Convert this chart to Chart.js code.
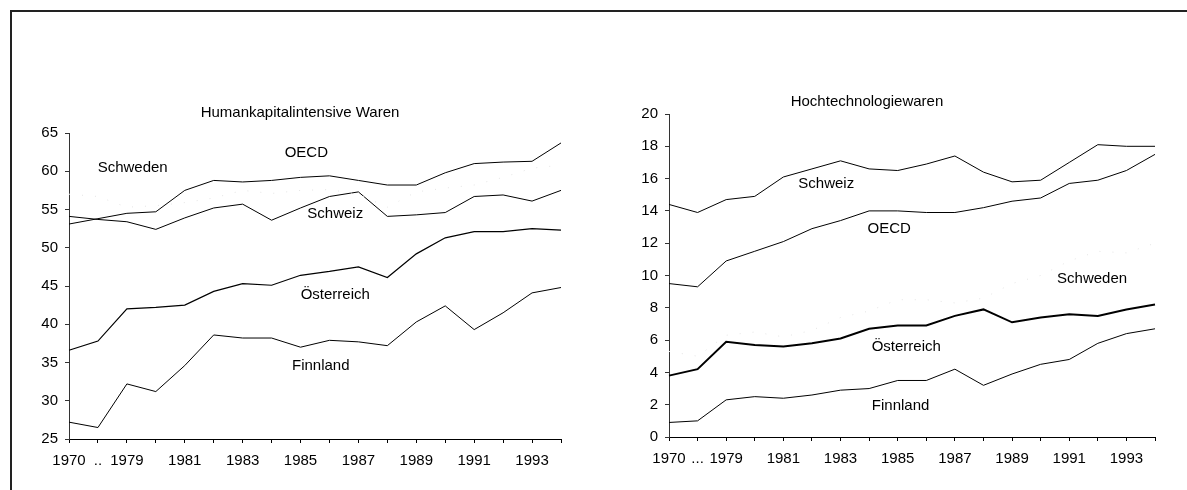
<!DOCTYPE html>
<html>
<head>
<meta charset="utf-8">
<script src="https://cdn.jsdelivr.net/npm/chart.js@4.4.1/dist/chart.umd.min.js"></script>
<style>
    body { margin: 0; background: #fff; width: 1187px; height: 490px; overflow: hidden; position: relative; }
    #frame { position: absolute; left: 10px; top: 10px; width: 1200px; height: 500px; border-top: 2px solid #222; border-left: 2px solid #222; }
    #leftChart { position: absolute; left: 20px; top: 20px; }
    #rightChart { position: absolute; left: 600px; top: 20px; }
</style>
</head>
<body>
<div id="frame"></div>
<canvas id="leftChart" width="570" height="460"></canvas>
<canvas id="rightChart" width="580" height="460"></canvas>
<script>
const years = ['1970', '..', '1979', '1980', '1981', '1982', '1983', '1984', '1985', '1986', '1987', '1988', '1989', '1990', '1991', '1992', '1993', '1994'];
const leftTickLabels = ['1970', '..', '1979', '', '1981', '', '1983', '', '1985', '', '1987', '', '1989', '', '1991', '', '1993', ''];
const rightTickLabels = ['1970', '...', '1979', '', '1981', '', '1983', '', '1985', '', '1987', '', '1989', '', '1991', '', '1993', ''];

// Humankapitalintensive Waren
const humanOecd = [53.1, 53.8, 54.5, 54.7, 57.5, 58.8, 58.6, 58.8, 59.2, 59.4, 58.8, 58.2, 58.2, 59.8, 61.0, 61.2, 61.3, 63.7];
const humanSchweiz = [54.1, 53.7, 53.4, 52.4, 53.9, 55.2, 55.7, 53.6, 55.2, 56.7, 57.3, 54.1, 54.3, 54.6, 56.7, 56.9, 56.1, 57.5];
const humanOesterreich = [36.6, 37.8, 42.0, 42.2, 42.5, 44.3, 45.3, 45.1, 46.4, 46.9, 47.5, 46.1, 49.2, 51.3, 52.1, 52.1, 52.5, 52.3];
const humanFinnland = [27.2, 26.5, 32.2, 31.2, 34.6, 38.6, 38.2, 38.2, 37.0, 37.9, 37.7, 37.2, 40.3, 42.4, 39.3, 41.5, 44.1, 44.8];
const humanSchweden = [57.0, 56.7, 55.3, 55.5, 55.9, 56.5, 57.5, 57.1, 57.5, 57.6, 57.0, 55.3, 57.3, 57.8, 58.2, 59.2, 60.4, 60.8];

// Hochtechnologiewaren
const hightechSchweiz = [14.4, 13.9, 14.7, 14.9, 16.1, 16.6, 17.1, 16.6, 16.5, 16.9, 17.4, 16.4, 15.8, 15.9, 17.0, 18.1, 18.0, 18.0];
const hightechOecd = [9.5, 9.3, 10.9, 11.5, 12.1, 12.9, 13.4, 14.0, 14.0, 13.9, 13.9, 14.2, 14.6, 14.8, 15.7, 15.9, 16.5, 17.5];
const hightechOesterreich = [3.8, 4.2, 5.9, 5.7, 5.6, 5.8, 6.1, 6.7, 6.9, 6.9, 7.5, 7.9, 7.1, 7.4, 7.6, 7.5, 7.9, 8.2];
const hightechFinnland = [0.9, 1.0, 2.3, 2.5, 2.4, 2.6, 2.9, 3.0, 3.5, 3.5, 4.2, 3.2, 3.9, 4.5, 4.8, 5.8, 6.4, 6.7];
const hightechSchweden = [5.3, 5.0, 6.3, 6.5, 6.2, 6.6, 7.4, 7.8, 8.5, 8.5, 8.3, 8.6, 9.5, 10.0, 10.9, 11.5, 11.4, 12.0];

const FONT_FAMILY = '"Liberation Sans", Arial, sans-serif';
const FONT_SIZE = 15;

const seriesLabels = {
    id: 'seriesLabels',
    afterDatasetsDraw(chart, args, opts) {
        const { ctx, chartArea, scales: { x, y } } = chart;
        ctx.save();
        ctx.font = FONT_SIZE + 'px ' + FONT_FAMILY;
        ctx.fillStyle = '#000';
        ctx.textAlign = 'center';
        ctx.textBaseline = 'middle';
        opts.labels.forEach(l => {
            ctx.fillText(l.text, x.getPixelForValue(l.x), y.getPixelForValue(l.y));
        });
        ctx.fillText(opts.title.text, chartArea.left + opts.title.dx, chartArea.top + opts.title.dy);
        ctx.restore();
    }
};

const lineSet = (data, width) => ({
    data: data,
    borderColor: '#000',
    borderWidth: width,
    pointRadius: 0,
    tension: 0,
    fill: false
});

const fadedSet = (data) => ({
    data: data,
    borderColor: '#e4e4e4',
    borderWidth: 1,
    borderDash: [1, 12],
    pointRadius: 0,
    tension: 0,
    fill: false
});

const renderChart = (canvasId, cfg) => {
    const ctx = document.getElementById(canvasId).getContext('2d');
    return new Chart(ctx, {
        type: 'line',
        data: {
            labels: years,
            datasets: cfg.datasets
        },
        options: {
            responsive: false,
            animation: false,
            layout: { padding: cfg.padding },
            scales: {
                x: {
                    offset: false,
                    grid: { display: true, drawOnChartArea: false, drawTicks: true, tickLength: 4, color: '#000' },
                    border: { display: true, color: '#000', width: 1 },
                    ticks: {
                        autoSkip: false,
                        maxRotation: 0,
                        padding: 9,
                        color: '#000',
                        font: { family: FONT_FAMILY, size: FONT_SIZE },
                        callback: (val, i) => cfg.tickLabels[i]
                    },
                    afterFit: (s) => { s.height = 30; }
                },
                y: {
                    min: cfg.min,
                    max: cfg.max,
                    grid: { display: true, drawOnChartArea: false, drawTicks: true, tickLength: 4, color: '#333' },
                    border: { display: true, color: '#333', width: 1 },
                    ticks: {
                        stepSize: cfg.step,
                        padding: 7,
                        color: '#000',
                        font: { family: FONT_FAMILY, size: FONT_SIZE }
                    },
                    afterFit: (s) => { s.width = cfg.yWidth; }
                }
            },
            plugins: {
                legend: { display: false },
                tooltip: { enabled: false },
                seriesLabels: { labels: cfg.labels, title: cfg.title }
            }
        },
        plugins: [seriesLabels]
    });
};

renderChart('leftChart', {
    datasets: [
        fadedSet(humanSchweden),
        lineSet(humanOecd, 1),
        lineSet(humanSchweiz, 1),
        lineSet(humanOesterreich, 1.2),
        lineSet(humanFinnland, 1)
    ],
    tickLabels: leftTickLabels,
    min: 25, max: 65, step: 5,
    yWidth: 49,
    padding: { left: 0, top: 113, right: 29, bottom: 11 },
    title: { text: 'Humankapitalintensive Waren', dx: 231, dy: -20 },
    labels: [
        { text: 'Schweden', x: 2.2, y: 60.4 },
        { text: 'OECD', x: 8.2, y: 62.4 },
        { text: 'Schweiz', x: 9.2, y: 54.4 },
        { text: 'Österreich', x: 9.2, y: 43.8 },
        { text: 'Finnland', x: 8.7, y: 34.6 }
    ]
});

renderChart('rightChart', {
    datasets: [
        fadedSet(hightechSchweden),
        lineSet(hightechSchweiz, 1),
        lineSet(hightechOecd, 1),
        lineSet(hightechOesterreich, 2),
        lineSet(hightechFinnland, 1)
    ],
    tickLabels: rightTickLabels,
    min: 0, max: 20, step: 2,
    yWidth: 69,
    padding: { left: 0, top: 94, right: 25, bottom: 13 },
    title: { text: 'Hochtechnologiewaren', dx: 198, dy: -12 },
    labels: [
        { text: 'Schweiz', x: 5.5, y: 15.7 },
        { text: 'OECD', x: 7.7, y: 12.9 },
        { text: 'Schweden', x: 14.8, y: 9.8 },
        { text: 'Österreich', x: 8.3, y: 5.6 },
        { text: 'Finnland', x: 8.1, y: 1.9 }
    ]
});
</script>
</body>
</html>
